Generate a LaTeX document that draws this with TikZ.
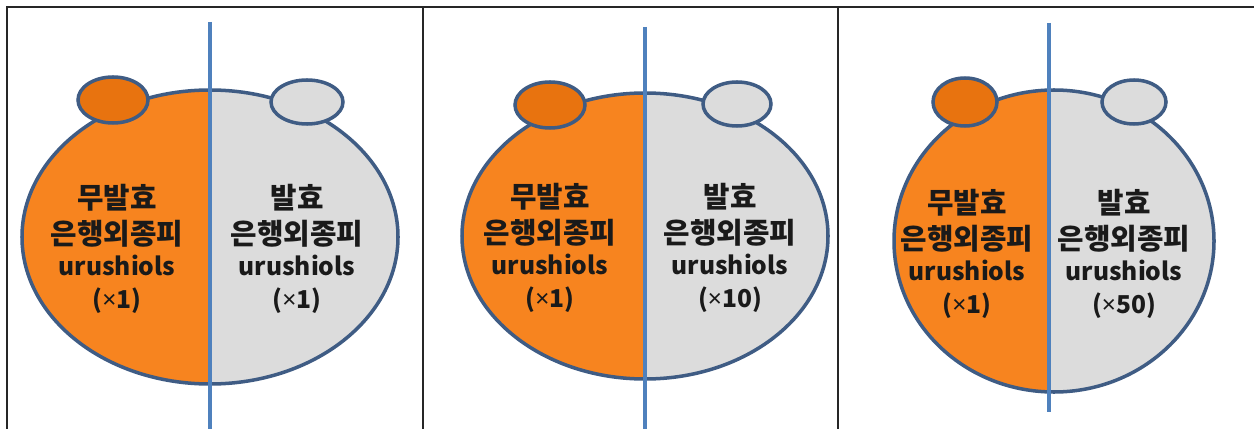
\documentclass[tikz,border=0pt]{standalone}
\usepackage{fontspec}
\setmainfont{Noto Sans CJK KR}
\newfontfamily\hangul{Noto Sans CJK KR}[Scale=1.17]
\newfontfamily\latin{Noto Sans}
\newcommand{\kr}[1]{{\hangul\bfseries #1}}
\newcommand{\mult}{{\latin\bfseries ×}}
\definecolor{peel}{HTML}{F7841F}
\definecolor{peeldark}{HTML}{E8730F}
\definecolor{pale}{HTML}{DCDCDC}
\definecolor{rim}{HTML}{3F5C84}
\definecolor{axis}{HTML}{4F81BD}
\definecolor{ink}{HTML}{1A1A1A}
\tikzset{
  frame/.style={line width=1.2pt, black!85},
  rimline/.style={draw=rim, line width=2pt},
  splitline/.style={draw=axis, line width=2.1pt},
  label/.style={align=center, text=ink, font=\fontsize{14}{20.5}\selectfont\bfseries}
}
\begin{document}
\begin{tikzpicture}[x=0.02cm,y=-0.02cm]
  \useasboundingbox (0,0) rectangle (1254,429);
  % outer frame and panel dividers
  \draw[frame] (7,429) -- (7,7) -- (1254,7);
  \draw[frame] (423,7) -- (423,429);
  \draw[frame] (838,7) -- (838,429);

  % panel 1
  \begin{scope}
    \clip (210,237) ellipse (188 and 147);
    \fill[peel] (20,88) rectangle (210,386);
    \fill[pale] (210,88) rectangle (400,386);
  \end{scope}
  \draw[rimline] (210,237) ellipse (188 and 147);
  \filldraw[rimline, fill=peeldark] (113,100) ellipse (35 and 23);
  \filldraw[rimline, fill=pale] (307,102) ellipse (36 and 22);
  \draw[splitline] (210,22) -- (210,429);
  \node[label] (raw1) at (117,249) {\kr{무발효}\\\kr{은행외종피}\\[-3pt]urushiols\\[-2pt](\mult1)};
  \node[label] (fer1) at (297,249) {\kr{발효}\\\kr{은행외종피}\\[-3pt]urushiols\\[-2pt](\mult1)};

  % panel 2
  \begin{scope}
    \clip (645,236) ellipse (183 and 143);
    \fill[peel] (460,90) rectangle (645,382);
    \fill[pale] (645,90) rectangle (830,382);
  \end{scope}
  \draw[rimline] (645,236) ellipse (183 and 143);
  \filldraw[rimline, fill=peeldark] (550,105) ellipse (35 and 23);
  \filldraw[rimline, fill=pale] (737,104) ellipse (34 and 22);
  \draw[splitline] (645,27) -- (645,429);
  \node[label] (raw2) at (550,248) {\kr{무발효}\\\kr{은행외종피}\\[-3pt]urushiols\\[-2pt](\mult1)};
  \node[label] (fer2) at (730,248) {\kr{발효}\\\kr{은행외종피}\\[-3pt]urushiols\\[-2pt](\mult10)};

  % panel 3
  \begin{scope}
    \clip (1054,241) ellipse (160 and 151);
    \fill[peel] (890,86) rectangle (1049,396);
    \fill[pale] (1049,86) rectangle (1218,396);
  \end{scope}
  \draw[rimline] (1054,241) ellipse (160 and 151);
  \filldraw[rimline, fill=peeldark] (965,102) ellipse (32 and 24);
  \filldraw[rimline, fill=pale] (1134,102) ellipse (32 and 22);
  \draw[splitline] (1049,23) -- (1049,412);
  \node[label] (raw3) at (967,254) {\kr{무발효}\\\kr{은행외종피}\\[-3pt]urushiols\\[-2pt](\mult1)};
  \node[label] (fer3) at (1124,254) {\kr{발효}\\\kr{은행외종피}\\[-3pt]urushiols\\[-2pt](\mult50)};
\end{tikzpicture}
\end{document}
